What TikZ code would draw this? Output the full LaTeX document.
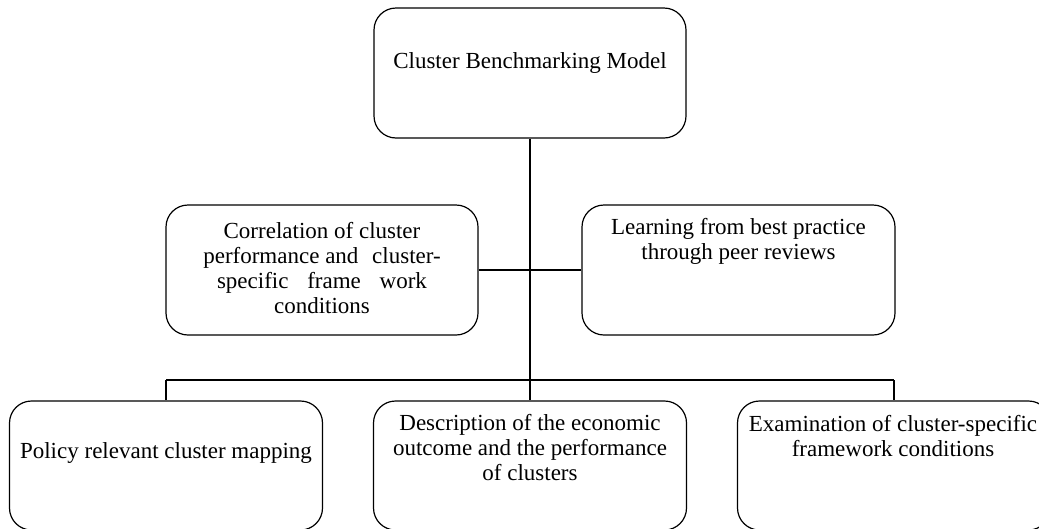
\documentclass[tikz,border=0pt]{standalone}
\usepackage{fontspec}
\setmainfont{Liberation Serif}
\begin{document}
\begin{tikzpicture}[x=1pt,y=-1pt,
  box/.style={draw, line width=1.2pt, rounded corners=22pt, inner sep=0pt, minimum width=313pt, minimum height=130pt},
  txt/.style={font=\fontsize{23}{25}\selectfont, align=center, inner sep=0pt, anchor=center},
  link/.style={line width=1.2pt}]
\useasboundingbox (0,0) rectangle (1039,528);
% boxes
\node[box, minimum width=312pt] (model) at (530,73) {};
\node[box, minimum width=312pt] (corr) at (322,270) {};
\node[box] (learn) at (738.5,270) {};
\node[box, minimum height=129pt] (policy) at (166,465.5) {};
\node[box, minimum height=129pt] (descr) at (530,465.5) {};
\node[box, minimum height=129pt] (exam) at (894,465.5) {};
% texts
\node[txt] (tmodel) at (530,63) {Cluster Benchmarking Model};
\node[txt] (tcorr) at (322,268.5) {Correlation of cluster\\performance and\hspace{8pt} cluster-\\specific\hspace{13pt} frame\hspace{13pt} work\\conditions};
\node[txt] (tlearn) at (738.5,241.5) {Learning from best practice\\through peer reviews};
\node[txt] (tpolicy) at (166,453) {Policy relevant cluster mapping};
\node[txt] (tdescr) at (530,448) {Description of the economic\\outcome and the performance\\of clusters};
\node[txt] (texam) at (893,436.5) {Examination of cluster-specific\\framework conditions};
% connectors
\coordinate (midC) at (530,270);
\coordinate (busC) at (530,380);
\coordinate (busL) at (166,380);
\coordinate (busR) at (894,380);
\draw[link] (model.south) -- (busC);
\draw[link] (corr.east |- midC) -- (learn.west |- midC);
\draw[link] (busL) -- (busR);
\draw[link] (busL) -- (policy.north);
\draw[link] (busC) -- (descr.north);
\draw[link] (busR) -- (exam.north);
\end{tikzpicture}
\end{document}
